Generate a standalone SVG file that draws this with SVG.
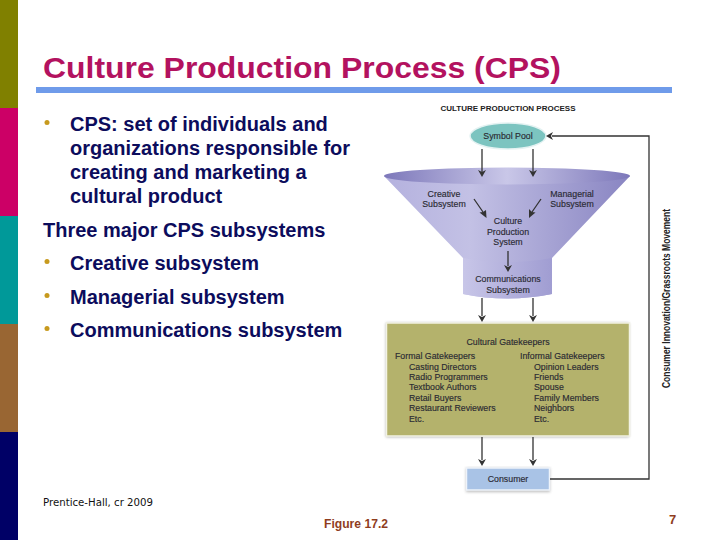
<svg xmlns="http://www.w3.org/2000/svg" width="720" height="540" viewBox="0 0 720 540">
<style>
.b{font:bold 20px "Liberation Sans",Arial,sans-serif;fill:#0c0c5c}
.dot{fill:#c79a1e}
.d{font:8.800px "Liberation Sans",Arial,sans-serif;fill:#2a2a33;stroke:#2a2a33;stroke-width:.15}
.c{stroke:#333;stroke-width:1.3;fill:none}
.h{fill:#333}
</style>
<defs>
<linearGradient id="fun" x1="0" x2="1" y1="0" y2="0"><stop offset="0" stop-color="#b4b1de"/><stop offset=".35" stop-color="#c3c1e5"/><stop offset="1" stop-color="#8985c2"/></linearGradient>
<linearGradient id="rim" x1="0" x2="1" y1="0" y2="0"><stop offset="0" stop-color="#7d78ba"/><stop offset=".5" stop-color="#c9c7e8"/><stop offset="1" stop-color="#7d78ba"/></linearGradient>
<linearGradient id="stem" x1="0" x2="1" y1="0" y2="0"><stop offset="0" stop-color="#c8c6e8"/><stop offset="1" stop-color="#a09dd2"/></linearGradient>
<filter id="sh" x="-5%" y="-5%" width="110%" height="115%"><feGaussianBlur stdDeviation="1.5"/></filter>
</defs>
<rect width="720" height="540" fill="#fff"/>
<g id="sidebar">
<rect width="18" height="108" fill="#808000"/>
<rect y="108" width="18" height="108" fill="#cc0066"/>
<rect y="216" width="18" height="108" fill="#009999"/>
<rect y="324" width="18" height="108" fill="#996633"/>
<rect y="432" width="18" height="108" fill="#000066"/>
</g>
<g id="title">
<text x="43" y="78" font-family="'Liberation Sans',Arial,sans-serif" font-size="29" font-weight="bold" fill="#b3125f" textLength="518" lengthAdjust="spacingAndGlyphs">Culture Production Process (CPS)</text>
<rect x="36" y="87" width="636" height="6" fill="#6f9bea"/>
</g>
<g id="body">
<circle class="dot" cx="47" cy="122.500" r="2.500"/>
<text class="b" x="70" y="131">CPS: set of individuals and</text>
<text class="b" x="70" y="155">organizations responsible for</text>
<text class="b" x="70" y="179">creating and marketing a</text>
<text class="b" x="70" y="203">cultural product</text>
<text class="b" x="43" y="237">Three major CPS subsystems</text>
<circle class="dot" cx="47" cy="261.500" r="2.500"/>
<text class="b" x="70" y="270">Creative subsystem</text>
<circle class="dot" cx="47" cy="295.500" r="2.500"/>
<text class="b" x="70" y="304">Managerial subsystem</text>
<circle class="dot" cx="47" cy="328.500" r="2.500"/>
<text class="b" x="70" y="337">Communications subsystem</text>
</g>
<g id="diagram-title"><text x="508" y="111" text-anchor="middle" font-family="'Liberation Sans',Arial,sans-serif" font-size="8" font-weight="bold" fill="#222">CULTURE PRODUCTION PROCESS</text></g>
<g id="funnel">
<path d="M384 176 L463 258 V294 Q507 303 552 294 V258 L630 176 Z" fill="url(#fun)"/>
<path d="M463 258 Q507 266 552 258 V294 Q507 303 463 294 Z" fill="url(#stem)"/>
<ellipse cx="507" cy="176" rx="123" ry="8.500" fill="url(#rim)"/>
<text class="d" x="444" y="197" text-anchor="middle">Creative</text>
<text class="d" x="444" y="207" text-anchor="middle">Subsystem</text>
<text class="d" x="572" y="197" text-anchor="middle">Managerial</text>
<text class="d" x="572" y="207" text-anchor="middle">Subsystem</text>
<text class="d" x="508" y="224" text-anchor="middle">Culture</text>
<text class="d" x="508" y="235" text-anchor="middle">Production</text>
<text class="d" x="508" y="245" text-anchor="middle">System</text>
<text class="d" x="508" y="282" text-anchor="middle">Communications</text>
<text class="d" x="508" y="293" text-anchor="middle">Subsystem</text>
</g>
<g id="symbol-pool">
<ellipse cx="508" cy="136" rx="38" ry="13" fill="#7cc4c0" stroke="#e4f2f2" stroke-width="1.500"/>
<text class="d" x="508" y="139" text-anchor="middle">Symbol Pool</text>
</g>
<g id="gatekeepers">
<rect x="386" y="323" width="243" height="114" fill="#aaa" filter="url(#sh)"/>
<rect x="386.500" y="323" width="243" height="113" fill="#b4b26c" stroke="#f2f2e4" stroke-width="1.500"/>
<text class="d" x="508" y="345" text-anchor="middle">Cultural Gatekeepers</text>
<text class="d" x="395" y="359">Formal Gatekeepers</text>
<text class="d" x="409" y="370">Casting Directors</text>
<text class="d" x="409" y="380">Radio Programmers</text>
<text class="d" x="409" y="390">Textbook Authors</text>
<text class="d" x="409" y="401">Retail Buyers</text>
<text class="d" x="409" y="411">Restaurant Reviewers</text>
<text class="d" x="409" y="422">Etc.</text>
<text class="d" x="520" y="359">Informal Gatekeepers</text>
<text class="d" x="534" y="370">Opinion Leaders</text>
<text class="d" x="534" y="380">Friends</text>
<text class="d" x="534" y="390">Spouse</text>
<text class="d" x="534" y="401">Family Members</text>
<text class="d" x="534" y="411">Neighbors</text>
<text class="d" x="534" y="422">Etc.</text>
</g>
<g id="consumer">
<rect x="466" y="468" width="84" height="24" fill="#bbb" filter="url(#sh)"/>
<rect x="466.500" y="468" width="83" height="22" fill="#a9c3e6" stroke="#eef3fa" stroke-width="1.500"/>
<text class="d" x="508" y="482" text-anchor="middle">Consumer</text>
</g>
<g id="connectors">
<path class="c" d="M482 149V172M533 149V172M474 199L483 212M541 199L532 212M508 251V266M482 298V316M533 298V316M482 437V460M533 437V460M550 479H649V136H552"/>
<path class="h" d="M478 170L482 172 486 170 482 177ZM529 170L533 172 537 170 533 177ZM486.500 218L479.500 212.500 483 212 486 210ZM529 218L529 209 532 212 535.500 212.500ZM504 265L508 267 512 265 508 272ZM478 315L482 317 486 315 482 322ZM529 315L533 317 537 315 533 322ZM478 459L482 461 486 459 482 466ZM529 459L533 461 537 459 533 466ZM546 136L553 132 551 136 553 140Z"/>
</g>
<g id="side-label"><text transform="translate(670 388) rotate(-90)" font-family="'Liberation Sans',Arial,sans-serif" font-size="10" font-weight="bold" fill="#222" textLength="179" lengthAdjust="spacingAndGlyphs">Consumer Innovation/Grassroots Movement</text></g>
<g id="footer">
<text x="43" y="506" font-family="'DejaVu Sans',Verdana,sans-serif" font-size="10.200" fill="#111">Prentice-Hall, cr 2009</text>
<text x="324" y="528" font-family="'Liberation Sans',Arial,sans-serif" font-size="13" font-weight="bold" fill="#8f3d1e" textLength="64" lengthAdjust="spacingAndGlyphs">Figure 17.2</text>
<text x="669" y="524" font-family="'Liberation Sans',Arial,sans-serif" font-size="13" font-weight="bold" fill="#8f3d1e">7</text>
</g>
</svg>
